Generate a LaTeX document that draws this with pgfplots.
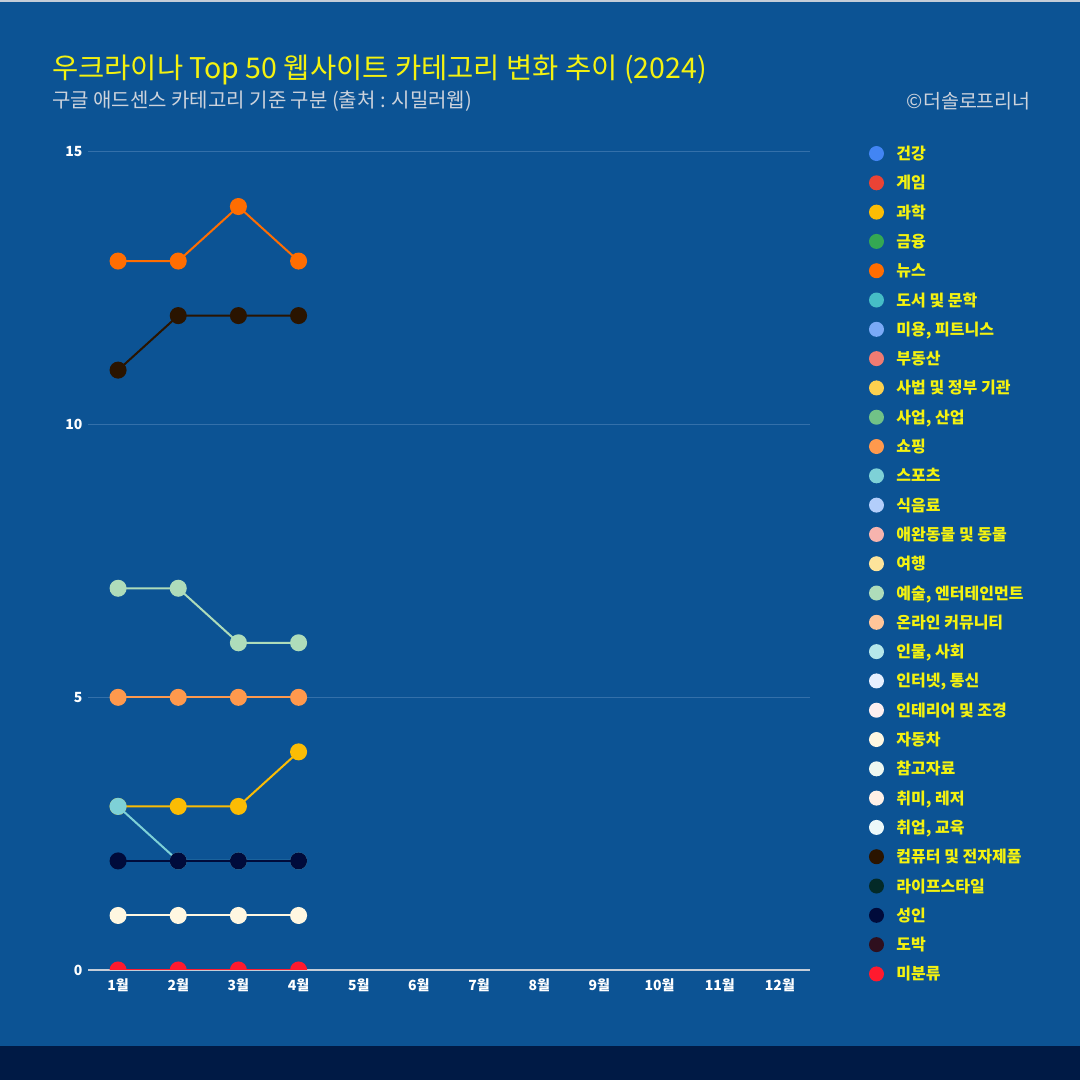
\documentclass[border=0pt]{standalone}
\usepackage{fontspec}
\setmainfont{Noto Sans CJK KR}
\usepackage{pgfplots}
\pgfplotsset{compat=1.18}
\definecolor{bgblue}{HTML}{0C5394}
\definecolor{bandnavy}{HTML}{001A45}
\definecolor{gridblue}{HTML}{3470AA}
\definecolor{axisgray}{HTML}{C5CDD8}
\definecolor{titleyellow}{HTML}{F4F210}
\definecolor{subgray}{HTML}{CDD3DC}
\definecolor{c01}{HTML}{4285F4}
\definecolor{c02}{HTML}{EA4335}
\definecolor{c03}{HTML}{FBBC04}
\definecolor{c04}{HTML}{34A853}
\definecolor{c05}{HTML}{FF6D01}
\definecolor{c06}{HTML}{46BDC6}
\definecolor{c07}{HTML}{7BAAF7}
\definecolor{c08}{HTML}{F07B72}
\definecolor{c09}{HTML}{FCD04F}
\definecolor{c10}{HTML}{71C287}
\definecolor{c11}{HTML}{FF994D}
\definecolor{c12}{HTML}{7ED1D7}
\definecolor{c13}{HTML}{B3CEFB}
\definecolor{c14}{HTML}{F7B4AE}
\definecolor{c15}{HTML}{FDE49B}
\definecolor{c16}{HTML}{AEDCBA}
\definecolor{c17}{HTML}{FFC599}
\definecolor{c18}{HTML}{B5E7EA}
\definecolor{c19}{HTML}{E6EFFE}
\definecolor{c20}{HTML}{FDEFEF}
\definecolor{c21}{HTML}{FFF7E1}
\definecolor{c22}{HTML}{EFF8F1}
\definecolor{c23}{HTML}{FFF0E6}
\definecolor{c24}{HTML}{ECF8F9}
\definecolor{c25}{HTML}{2A1400}
\definecolor{c26}{HTML}{032A28}
\definecolor{c27}{HTML}{000B3B}
\definecolor{c28}{HTML}{2E0F1E}
\definecolor{c29}{HTML}{FF1A2E}
\begin{document}
\begin{tikzpicture}[x=1pt,y=1pt]
\fill[bgblue] (0,0) rectangle (1080,1080);
\fill[bandnavy] (0,0) rectangle (1080,34);
\fill[axisgray] (0,1078) rectangle (1080,1080);
\useasboundingbox (0,0) rectangle (1080,1080);
\node[anchor=west, inner sep=0pt, text=titleyellow, font=\fontsize{28.5}{32}\selectfont] at (52,1010) {우크라이나 Top 50 웹사이트 카테고리 변화 추이 (2024)};
\node[anchor=west, inner sep=0pt, text=subgray, font=\fontsize{20}{22}\selectfont] at (52,979) {구글 애드센스 카테고리 기준 구분 (출처 : 시밀러웹)};
\node[anchor=east, inner sep=0pt, text=subgray, font=\fontsize{19.5}{22}\selectfont] at (1031,979) {©더솔로프리너};
\begin{axis}[
  at={(88pt,110pt)}, anchor=south west,
  width=722pt, height=818pt, scale only axis,
  xmin=0.5, xmax=12.5, ymin=0, ymax=15,
  clip marker paths=true,
  xtick={1,...,12},
  xticklabels={1월,2월,3월,4월,5월,6월,7월,8월,9월,10월,11월,12월},
  ytick={5,10,15},
  extra y ticks={0},
  extra y tick style={grid style={draw=axisgray, line width=2pt}},
  ymajorgrids, grid style={draw=gridblue, line width=1pt},
  axis line style={draw=none},
  tick style={draw=none},
  /pgf/number format/assume math mode=true,
  ticklabel style={text=white, font=\fontsize{14}{14}\bfseries\selectfont},
  yticklabel style={xshift=-2pt},
  xticklabel style={yshift=-5pt},
  every axis plot/.append style={line width=2pt, mark=*, mark size=7.5pt, mark options={draw=none}},
  legend style={at={(axis description cs:1.0817,1.0073)}, anchor=north west,
    draw=none, fill=none, inner sep=0pt, outer sep=0pt,
    font=\fontsize{16}{16}\bfseries\selectfont, text=titleyellow,
    row sep=14.3pt,
    nodes={inner sep=0pt, text height=13pt, text depth=1pt, anchor=west}},
  legend cell align=left,
  legend image code/.code={\fill[#1, draw=none] (7pt,0pt) circle (7.5pt); \path (26pt,0pt);},
]
\addlegendimage{color=c01}\addlegendentry{건강}
\addlegendimage{color=c02}\addlegendentry{게임}
\addplot[color=c03] coordinates {(1,3)(2,3)(3,3)(4,4)};\addlegendentry{과학}
\addlegendimage{color=c04}\addlegendentry{금융}
\addplot[color=c05] coordinates {(1,13)(2,13)(3,14)(4,13)};\addlegendentry{뉴스}
\addlegendimage{color=c06}\addlegendentry{도서 및 문학}
\addlegendimage{color=c07}\addlegendentry{미용, 피트니스}
\addlegendimage{color=c08}\addlegendentry{부동산}
\addlegendimage{color=c09}\addlegendentry{사법 및 정부 기관}
\addlegendimage{color=c10}\addlegendentry{사업, 산업}
\addplot[color=c11] coordinates {(1,5)(2,5)(3,5)(4,5)};\addlegendentry{쇼핑}
\addplot[color=c12] coordinates {(1,3)(2,2)(3,2)(4,2)};\addlegendentry{스포츠}
\addlegendimage{color=c13}\addlegendentry{식음료}
\addlegendimage{color=c14}\addlegendentry{애완동물 및 동물}
\addlegendimage{color=c15}\addlegendentry{여행}
\addplot[color=c16] coordinates {(1,7)(2,7)(3,6)(4,6)};\addlegendentry{예술, 엔터테인먼트}
\addlegendimage{color=c17}\addlegendentry{온라인 커뮤니티}
\addlegendimage{color=c18}\addlegendentry{인물, 사회}
\addlegendimage{color=c19}\addlegendentry{인터넷, 통신}
\addlegendimage{color=c20}\addlegendentry{인테리어 및 조경}
\addplot[color=c21] coordinates {(1,1)(2,1)(3,1)(4,1)};\addlegendentry{자동차}
\addlegendimage{color=c22}\addlegendentry{참고자료}
\addlegendimage{color=c23}\addlegendentry{취미, 레저}
\addlegendimage{color=c24}\addlegendentry{취업, 교육}
\addplot[color=c25] coordinates {(1,11)(2,12)(3,12)(4,12)};\addlegendentry{컴퓨터 및 전자제품}
\addlegendimage{color=c26}\addlegendentry{라이프스타일}
\addplot[color=c27] coordinates {(1,2)(2,2)(3,2)(4,2)};\addlegendentry{성인}
\addlegendimage{color=c28}\addlegendentry{도박}
\addplot[color=c29] coordinates {(1,0)(2,0)(3,0)(4,0)};\addlegendentry{미분류}
\end{axis}
\end{tikzpicture}
\end{document}
